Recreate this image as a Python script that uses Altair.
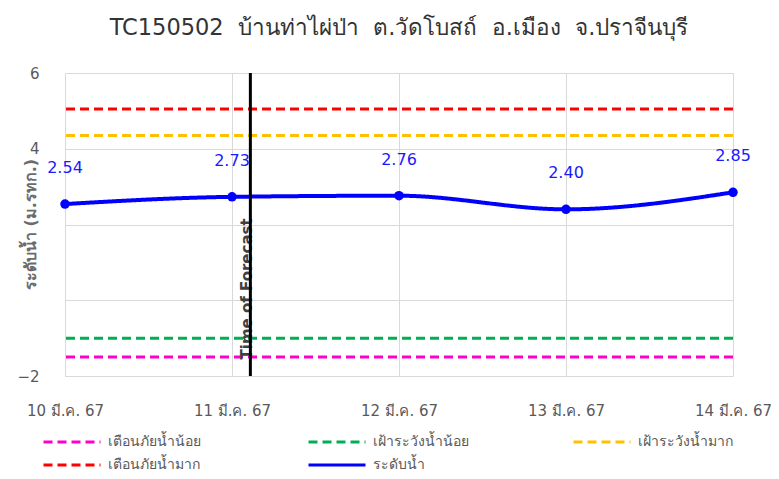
import altair as alt
import pandas as pd

# ---- data ----
dates = ["10 มี.ค. 67", "11 มี.ค. 67", "12 มี.ค. 67", "13 มี.ค. 67", "14 มี.ค. 67"]
day_index = [0, 1, 2, 3, 4]
water_level = [2.54, 2.73, 2.76, 2.40, 2.85]

threshold_names = ["เตือนภัยน้ำน้อย", "เฝ้าระวังน้ำน้อย", "เฝ้าระวังน้ำมาก", "เตือนภัยน้ำมาก"]
threshold_values = [-1.5, -1.0, 4.35, 5.05]
series_name = "ระดับน้ำ"
legend_colors = ["#FF00CC", "#00B050", "#FFC000", "#FF0000", "#0000FF"]

forecast_x = [1.11]
forecast_label = "Time of Forecast"
forecast_label_y = [0.3]

title_parts = ["TC150502", "บ้านท่าไผ่ป่า", "ต.วัดโบสถ์", "อ.เมือง", "จ.ปราจีนบุรี"]
title_text = " \u00a0".join(title_parts)
y_title = "ระดับน้ำ (ม.รทก.)"
y_ticks = [-2, 0, 2, 4, 6]

FONT = "DejaVu Sans"

names = threshold_names + [series_name]
dashes = [[9, 5], [9, 5], [9, 5], [9, 5], [1, 0]]

level_df = pd.DataFrame({"x": day_index, "y": water_level, "name": series_name})
thr_df = pd.DataFrame({"y": threshold_values, "name": threshold_names})
fc_df = pd.DataFrame({"x": forecast_x, "y": forecast_label_y, "t": [forecast_label]})

label_expr = "[" + ",".join("'%s'" % d for d in dates) + "][datum.value]"

x_scale = alt.Scale(domain=[0, 4], nice=False, zero=False)
y_scale = alt.Scale(domain=[-2, 6], nice=False)

x_axis = alt.Axis(values=day_index, labelExpr=label_expr, title=None, grid=True,
                  gridColor="#D9D9D9", domain=False, ticks=False, labelPadding=27,
                  labelFlush=False, labelOverlap=False,
                  labelFontSize=15, labelColor="#595959", labelFont=FONT)
y_axis = alt.Axis(values=y_ticks, title=y_title, grid=True, gridColor="#D9D9D9",
                  domain=False, ticks=False, labelPadding=26,
                  labelExpr="(datum.value == 0 || datum.value == 2) ? '' : datum.label",
                  labelFontSize=15, labelColor="#595959", labelFont=FONT,
                  titleFontSize=16, titleColor="#6B6B6B", titleFont=FONT,
                  titleFontWeight="bold", titleX=-35, titleY=151,
                  titleBaseline="middle", titleAngle=-90)

legend = alt.Legend(
    title=None, orient="none", legendX=-9, legendY=353, columns=3,
    direction="horizontal", symbolType="M-2,0L2,0", symbolSize=812,
    symbolStrokeWidth=3, labelFontSize=14, labelColor="#595959", labelFont=FONT,
    labelOffset=20, columnPadding=98, rowPadding=0, gridAlign="all",
)

color_enc = alt.Color("name:N", scale=alt.Scale(domain=names, range=legend_colors), legend=legend)
dash_enc = alt.StrokeDash("name:N", scale=alt.Scale(domain=names, range=dashes), legend=legend)

thr = alt.Chart(thr_df).mark_rule(strokeWidth=3).encode(
    y=alt.Y("y:Q", scale=y_scale, axis=y_axis),
    color=color_enc, strokeDash=dash_enc,
)

line = alt.Chart(level_df).mark_line(strokeWidth=4, interpolate="monotone").encode(
    x=alt.X("x:Q", scale=x_scale, axis=x_axis),
    y=alt.Y("y:Q", scale=y_scale),
    color=color_enc, strokeDash=dash_enc,
)

pts = alt.Chart(level_df).mark_circle(size=90, opacity=1, color="#0000FF").encode(
    x=alt.X("x:Q", scale=x_scale),
    y=alt.Y("y:Q", scale=y_scale),
)

lbl = alt.Chart(level_df).mark_text(dy=-36, fontSize=16, color="#1A1AFF", font=FONT,
                                    baseline="middle", align="center").encode(
    x=alt.X("x:Q", scale=x_scale),
    y=alt.Y("y:Q", scale=y_scale),
    text=alt.Text("y:Q", format=".2f"),
)

fc_text = alt.Chart(fc_df).mark_text(angle=270, fontSize=15, fontWeight="bold",
                                     color="#404040", font=FONT, dy=-3,
                                     baseline="middle", align="center").encode(
    x=alt.X("x:Q", scale=x_scale),
    y=alt.Y("y:Q", scale=y_scale),
    text="t:N",
)

fc_rule = alt.Chart(fc_df).mark_rule(strokeWidth=3, color="black").encode(
    x=alt.X("x:Q", scale=x_scale),
)

chart = alt.layer(thr, line, pts, lbl, fc_text, fc_rule).properties(
    width=668, height=303,
    title=alt.TitleParams(title_text, fontSize=22.5, font=FONT, color="#333333",
                          fontWeight="normal", offset=27, anchor="middle"),
    autosize=alt.AutoSizeParams(type="none"),
    padding={"left": 57, "top": 65, "right": 38, "bottom": 95},
).configure_view(stroke=None)

chart.save("out.html", embed_options={"renderer": "svg", "actions": False})
